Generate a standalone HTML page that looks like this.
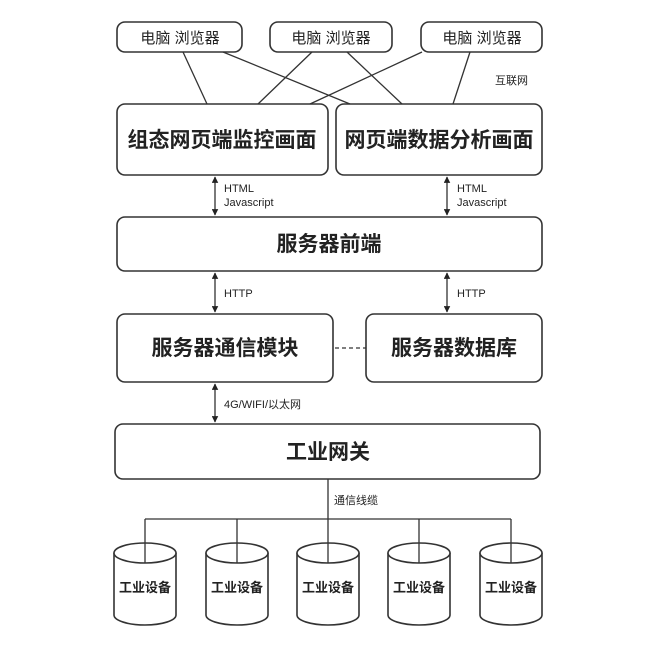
<!DOCTYPE html>
<html><head><meta charset="utf-8"><style>
html,body{margin:0;padding:0;background:#fff;}
svg{display:block}
text{font-family:"Liberation Sans","Noto Sans CJK SC",sans-serif;fill:#222}
</style></head><body>
<svg width="668" height="648" viewBox="0 0 668 648" xmlns="http://www.w3.org/2000/svg">
<defs>
<marker id="a" viewBox="0 0 10 10" refX="9" refY="5" markerWidth="5" markerHeight="5" orient="auto-start-reverse"><path d="M0,0 L10,5 L0,10 z" fill="#222"/></marker>
</defs>
<g fill="#fff" stroke="#333" stroke-width="1.6">
<rect x="117" y="22" width="125" height="30" rx="8"/>
<rect x="270" y="22" width="122" height="30" rx="8"/>
<rect x="421" y="22" width="121" height="30" rx="8"/>
<rect x="117" y="104" width="211" height="71" rx="8"/>
<rect x="336" y="104" width="206" height="71" rx="8"/>
<rect x="117" y="217" width="425" height="54" rx="8"/>
<rect x="117" y="314" width="216" height="68" rx="8"/>
<rect x="366" y="314" width="176" height="68" rx="8"/>
<rect x="115" y="424" width="425" height="55" rx="8"/>
</g>
<g stroke="#333" stroke-width="1.3" fill="none">
<line x1="183" y1="52" x2="207" y2="104"/>
<line x1="223" y1="52" x2="350" y2="104"/>
<line x1="312" y1="52" x2="258" y2="104"/>
<line x1="347" y1="52" x2="402" y2="104"/>
<line x1="422" y1="52" x2="310" y2="104"/>
<line x1="470" y1="52" x2="453" y2="104"/>
<line x1="215" y1="177" x2="215" y2="215" marker-start="url(#a)" marker-end="url(#a)"/>
<line x1="447" y1="177" x2="447" y2="215" marker-start="url(#a)" marker-end="url(#a)"/>
<line x1="215" y1="273" x2="215" y2="312" marker-start="url(#a)" marker-end="url(#a)"/>
<line x1="447" y1="273" x2="447" y2="312" marker-start="url(#a)" marker-end="url(#a)"/>
<line x1="215" y1="384" x2="215" y2="422" marker-start="url(#a)" marker-end="url(#a)"/>
<line x1="335" y1="348" x2="366" y2="348" stroke-dasharray="4,3"/>
<line x1="328" y1="479" x2="328" y2="519"/>
<line x1="145" y1="519" x2="511" y2="519"/>
</g>
<g stroke="#333" stroke-width="1.6" fill="#fff">
<g id="c">
<path d="M114,553 L114,615 A31,10 0 0 0 176,615 L176,553"/>
<ellipse cx="145" cy="553" rx="31" ry="10"/>
<line x1="145" y1="519" x2="145" y2="563" stroke-width="1.3"/>
</g>
<use href="#c" x="92"/>
<use href="#c" x="183"/>
<use href="#c" x="274"/>
<use href="#c" x="366"/>
</g>
<g font-size="15" text-anchor="middle">
<text x="180" y="43">电脑 浏览器</text>
<text x="331" y="43">电脑 浏览器</text>
<text x="482" y="43">电脑 浏览器</text>
</g>
<g font-size="21" font-weight="bold" text-anchor="middle">
<text x="222" y="147">组态网页端监控画面</text>
<text x="439" y="147">网页端数据分析画面</text>
<text x="329" y="251">服务器前端</text>
<text x="225" y="355">服务器通信模块</text>
<text x="454" y="355">服务器数据库</text>
<text x="328" y="459">工业网关</text>
</g>
<g font-size="11">
<text x="224" y="192">HTML</text>
<text x="224" y="206">Javascript</text>
<text x="457" y="192">HTML</text>
<text x="457" y="206">Javascript</text>
<text x="224" y="297">HTTP</text>
<text x="457" y="297">HTTP</text>
<text x="224" y="408">4G/WIFI/以太网</text>
<text x="495" y="84">互联网</text>
<text x="334" y="504">通信线缆</text>
</g>
<g font-size="13" text-anchor="middle" font-weight="bold">
<text x="145" y="592">工业设备</text>
<text x="237" y="592">工业设备</text>
<text x="328" y="592">工业设备</text>
<text x="419" y="592">工业设备</text>
<text x="511" y="592">工业设备</text>
</g>
</svg>
</body></html>
